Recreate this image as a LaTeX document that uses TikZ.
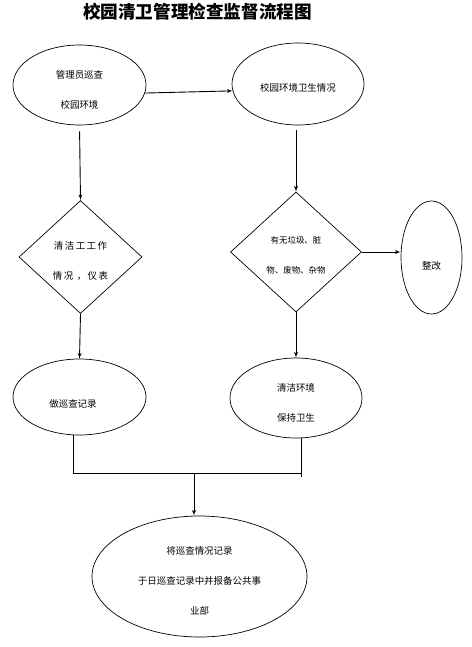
\documentclass[tikz,border=0pt]{standalone}
\usepackage{fontspec}
\newfontfamily\cjk{Noto Sans CJK SC}
\newfontfamily\cjkwide{Noto Sans CJK SC}[LetterSpace=15]
\usetikzlibrary{arrows,shapes}
\tikzset{
    oval/.style = {
        draw,
        shape=ellipse,
        inner sep=0pt,
        line width=0.7pt
    },
    check/.style = {
        draw,
        shape=diamond,
        aspect=1,
        inner sep=0pt,
        line width=0.7pt
    },
    words/.style = {
        align=center,
        inner sep=0pt,
        font=\cjk\fontsize{9.5}{30}\selectfont
    },
    heading/.style = {
        inner sep=0pt,
        font=\cjk\bfseries\fontsize{17.6bp}{20bp}\selectfont
    },
    link/.style = {
        draw,
        line width=0.9pt
    },
    >=latex',
}
\begin{document}
\begin{tikzpicture}[x=1bp,y=-1bp]
            \useasboundingbox (0,0) rectangle (472,647);
            \node[heading] (title) at (197.5,12) {校园清卫管理检查监督流程图};

            \node[oval, minimum width=133bp, minimum height=80bp] (patrol) at (79.5,85) {};
            \node[oval, minimum width=132bp, minimum height=82bp] (hygiene) at (298,84) {};
            \node[check, minimum width=123bp, minimum height=113bp] (work) at (80.5,257) {};
            \node[check, minimum width=131bp, minimum height=120bp] (litter) at (296,252) {};
            \node[oval, minimum width=61bp, minimum height=113bp] (rectify) at (431.5,257.5) {};
            \node[oval, minimum width=133bp, minimum height=76bp] (record) at (79.5,397) {};
            \node[oval, minimum width=132bp, minimum height=80bp] (clean) at (296,398) {};
            \node[oval, minimum width=215bp, minimum height=121bp] (report) at (199.5,576.5) {};

            \node[words] (patrol text) at ([yshift=-5bp]patrol.center) {管理员巡查\\校园环境};
            \node[words] (hygiene text) at ([yshift=-4bp]hygiene.center) {校园环境卫生情况};
            \node[words, font=\cjkwide\fontsize{9.5}{30}\selectfont] (work text) at ([yshift=-4bp]work.center) {清洁工工作\\情况 ，仪表};
            \node[words, font=\cjk\fontsize{8.5}{30}\selectfont] (litter text) at ([yshift=-3bp]litter.center) {有无垃圾、脏\\物、废物、杂物};
            \node[words] (rectify text) at ([yshift=-8bp]rectify.center) {整改};
            \node[words] (record text) at ([xshift=-6.5bp, yshift=-7bp]record.center) {做巡查记录};
            \node[words] (clean text) at ([yshift=-5bp]clean.center) {清洁环境\\保持卫生};
            \node[words] (report text) at ([yshift=-4.5bp]report.center) {将巡查情况记录\\于日巡查记录中并报备公共事\\业部};

            \coordinate (leftjoin) at (73,473);
            \coordinate (rightjoin) at (301,473);
            \coordinate (midjoin) at (194,473);

            \path[link, ->] (patrol.-7) -- (hygiene.186);
            \path[link, ->, shorten <=6bp] (patrol.south) -- (work.north);
            \path[link, ->, shorten <=5bp] (litter.north |- hygiene.south) -- (litter.north);
            \path[link, ->] (work.south) -- (record.north);
            \path[link, ->] (litter.south) -- (clean.north);
            \path[link, ->] (litter.east) -- (litter.east -| rectify.west);

            \path[link] (record.south -| leftjoin) |- (rightjoin);
            \path[link] (clean.south -| rightjoin) -- ([yshift=-4bp]rightjoin);
            \path[link, ->] (midjoin) -- (midjoin |- report.north);
\end{tikzpicture}
\end{document}
